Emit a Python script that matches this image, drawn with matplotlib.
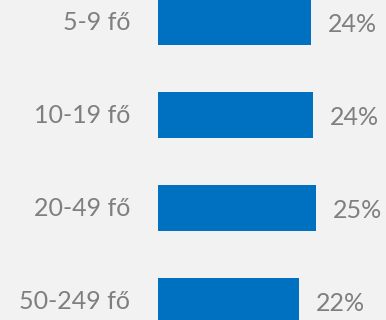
import matplotlib
matplotlib.use("Agg")
import matplotlib.pyplot as plt

categories = ['5-9 fő', '10-19 fő', '20-49 fő', '50-249 fő']
values = [24.2, 24.5, 25.0, 22.3]
labels = ['24%', '24%', '25%', '22%']

plt.rcParams['font.family'] = ['Lato', 'DejaVu Sans']

fig = plt.figure(figsize=(3.86, 3.2), dpi=100, facecolor='#f2f2f2')
ax = fig.add_axes([0, 0, 1, 1])
ax.set_facecolor('#f2f2f2')

pos = list(range(len(categories)))
ax.barh(pos, values, height=0.495, color='#0070c0')

for i in pos:
    ax.text(-4.4, i, categories[i], ha='right', va='center',
            fontsize=18, color='#7f7f7f')
    ax.text(values[i] + 2.7, i + 0.03, labels[i], ha='left', va='center',
            fontsize=18, color='#7f7f7f')

ax.set_xlim(-25.0, 36.08)
ax.set_ylim(3.204, -0.2366)
ax.axis('off')

fig.savefig('out.png', dpi=100, facecolor='#f2f2f2')
